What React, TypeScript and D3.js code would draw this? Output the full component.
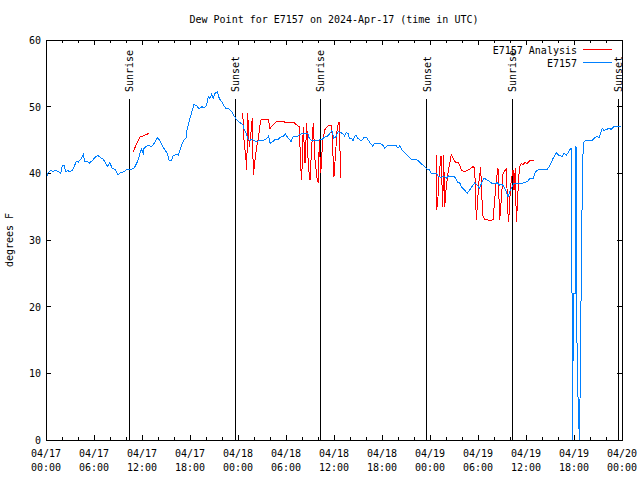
import React from "react";
import * as d3 from "d3";

const TITLE = "Dew Point for E7157 on 2024-Apr-17 (time in UTC)";
const Y_LABEL = "degrees F";
const START_UTC = Date.UTC(2024, 3, 17, 0, 0);
const END_UTC = Date.UTC(2024, 3, 20, 0, 0);
const Y_DOMAIN: [number, number] = [0, 60];
const Y_TICKS = [0, 10, 20, 30, 40, 50, 60];

// hours since 2024-04-17 00:00 UTC, dew point (F)
const observed: [number, number][] = [
  [0.1, 39.5], [0.25, 40.1], [0.59, 40.4], [0.91, 40.3], [1.21, 40.5], [1.63, 40.2], [1.84, 40.0],
  [2.04, 41.25], [2.25, 41.2], [2.46, 40.3], [2.75, 40.4], [3.0, 40.2], [3.29, 40.5], [3.59, 41.2],
  [3.79, 41.85], [4.04, 41.7], [4.34, 42.1], [4.66, 42.85], [4.84, 41.85], [5.16, 41.85], [5.38, 41.5],
  [5.79, 41.9], [6.21, 42.5], [6.5, 42.65], [6.84, 42.35], [7.16, 42.1], [7.46, 41.5], [7.66, 41.0],
  [7.96, 41.6], [8.29, 40.75], [8.71, 40.5], [9.0, 39.75], [9.34, 40.1], [9.75, 40.25], [10.09, 40.6],
  [10.59, 40.6], [11.0, 40.75], [11.34, 41.5], [11.63, 42.5], [11.91, 43.65], [12.16, 43.0], [12.25, 43.75],
  [12.5, 44.0], [12.79, 44.25], [13.09, 44.0], [13.41, 44.25], [13.75, 45.0], [13.96, 45.35], [14.25, 44.85],
  [14.59, 44.0], [14.88, 43.5], [15.16, 43.0], [15.41, 41.85], [15.71, 42.0], [15.91, 42.65], [16.25, 42.85],
  [16.54, 42.75], [16.75, 43.5], [16.96, 44.25], [17.25, 45.0], [17.5, 45.25], [17.66, 46.75], [18.0, 48.25],
  [18.29, 49.5], [18.5, 50.35], [18.84, 50.15], [19.16, 49.65], [19.46, 50.0], [19.79, 49.85], [20.09, 50.25],
  [20.29, 51.5], [20.5, 51.25], [20.71, 51.85], [20.91, 51.25], [21.13, 52.0], [21.41, 52.25], [21.66, 51.25],
  [21.96, 50.75], [22.25, 50.15], [22.5, 49.75], [22.91, 49.65], [23.21, 49.25], [23.5, 48.65], [23.75, 48.15],
  [24.09, 47.75], [24.38, 47.5], [24.66, 47.25], [24.79, 46.5], [25.0, 46.0], [25.21, 45.25], [25.41, 44.9],
  [25.75, 45.1], [26.04, 44.9], [26.34, 44.75], [26.66, 44.9], [27.09, 44.9], [27.5, 45.1], [27.84, 45.6],
  [28.0, 44.5], [28.34, 44.75], [28.66, 45.1], [28.96, 45.0], [29.25, 45.4], [29.59, 45.5], [29.91, 45.9],
  [30.21, 45.4], [30.41, 45.1], [30.63, 44.75], [30.84, 45.4], [31.16, 45.6], [31.46, 45.6], [31.88, 45.9],
  [32.29, 46.0], [32.71, 46.0], [32.91, 45.25], [33.25, 44.9], [33.66, 45.0], [34.09, 45.0], [34.5, 45.1],
  [34.79, 45.4], [35.21, 45.6], [35.5, 46.0], [35.75, 46.4], [35.96, 45.25], [36.25, 45.5], [36.5, 46.25],
  [36.79, 46.1], [37.09, 46.0], [37.34, 45.6], [37.5, 46.1], [37.75, 46.0], [37.91, 45.25], [38.16, 45.25],
  [38.38, 44.9], [38.59, 45.5], [38.75, 45.75], [39.0, 45.25], [39.29, 45.0], [39.5, 45.0], [39.79, 45.4],
  [40.04, 45.4], [40.34, 44.9], [40.54, 44.5], [40.84, 44.1], [41.09, 44.5], [41.38, 44.5], [41.66, 44.5],
  [41.91, 44.4], [42.21, 44.1], [42.34, 43.75], [42.63, 44.1], [43.04, 44.25], [43.46, 44.25], [43.75, 44.25],
  [44.0, 43.75], [44.21, 44.1], [44.5, 43.5], [44.84, 43.1], [45.13, 42.75], [45.41, 42.4], [45.66, 42.1],
  [46.16, 42.1], [46.5, 41.9], [46.79, 41.6], [47.09, 41.25], [47.34, 41.0], [47.63, 40.6], [47.91, 40.6],
  [48.16, 40.0], [48.38, 39.9], [48.79, 40.0], [49.09, 39.5], [49.41, 39.4], [49.75, 39.6], [50.04, 39.25],
  [50.34, 39.6], [50.66, 39.5], [51.0, 39.6], [51.29, 39.1], [51.5, 38.6], [51.71, 38.6], [51.91, 38.0],
  [52.25, 37.6], [52.66, 37.0], [52.96, 37.5], [53.25, 38.0], [53.59, 38.6], [53.91, 38.25], [54.21, 37.75],
  [54.5, 38.75], [54.75, 39.25], [55.04, 39.1], [55.46, 38.75], [55.75, 38.5], [56.09, 38.4], [56.41, 38.6],
  [56.71, 38.25], [57.0, 38.4], [57.25, 38.0], [57.54, 37.25], [57.75, 36.5], [57.96, 37.25], [58.16, 37.75],
  [58.5, 38.5], [58.79, 38.4], [59.09, 38.5], [59.41, 38.4], [59.75, 38.6], [60.16, 38.75], [60.5, 39.25],
  [60.91, 39.25], [61.09, 40.0], [61.34, 40.4], [61.63, 40.6], [62.66, 40.6], [62.88, 41.0], [63.09, 41.5],
  [63.29, 42.0], [63.5, 42.5], [63.79, 43.1], [64.04, 42.75], [64.34, 42.6], [64.54, 42.5], [64.75, 43.0],
  [65.04, 42.75], [65.29, 43.1], [65.5, 43.6], [65.66, 43.75], [65.75, 22.0], [65.79, 7.5], [65.84, 0.0],
  [65.91, 22.0], [66.13, 22.0], [66.16, 44.1], [66.23, 36.75], [66.29, 44.0], [66.34, 22.0], [66.41, 7.5],
  [66.54, 6.0], [66.66, 0.0], [66.75, 6.0], [66.84, 17.0], [66.94, 27.5], [67.04, 38.75], [67.16, 44.5],
  [67.25, 44.75], [67.66, 45.0], [68.29, 45.0], [68.5, 45.25], [68.84, 45.5], [69.13, 45.4], [69.34, 46.0],
  [69.54, 46.75], [69.75, 46.4], [70.09, 46.6], [70.38, 46.75], [70.66, 46.6], [70.91, 46.9], [71.09, 47.1],
  [71.34, 47.0], [71.63, 47.1], [71.91, 47.1],
];

// analysis series; null separates gaps
const analysis: ([number, number] | null)[] = [
  [10.91, 43.25], [11.34, 44.5], [11.75, 45.5], [12.16, 45.6], [12.59, 45.85], [12.91, 46.0],
  null,
  [24.59, 49.0], [24.75, 45.0], [25.0, 42.0], [25.09, 40.5], [25.21, 49.0], [25.41, 44.0], [25.63, 46.25],
  [25.79, 48.25], [25.91, 39.75], [26.13, 42.0], [26.34, 44.0], [26.54, 45.25], [26.84, 48.0], [27.16, 48.1],
  [27.79, 48.1], [28.0, 46.75], [28.41, 47.25], [28.84, 47.85], [29.66, 47.85], [29.88, 47.6], [30.5, 47.65],
  [31.0, 47.6], [31.34, 47.25], [31.66, 47.0], [31.84, 41.0], [31.96, 39.0], [32.16, 47.0], [32.38, 41.5],
  [32.59, 47.5], [32.79, 41.0], [33.0, 39.0], [33.21, 44.0], [33.41, 47.5], [33.63, 42.0], [33.91, 39.0],
  [34.04, 38.5], [34.16, 45.0], [34.34, 40.0], [34.59, 45.0], [34.88, 46.6], [35.16, 47.0], [35.41, 47.25],
  [35.71, 47.25], [35.84, 43.5], [36.0, 39.5], [36.25, 44.0], [36.41, 47.0], [36.66, 47.75], [36.84, 39.25],
  null,
  [48.79, 42.75], [48.84, 34.5], [49.0, 36.5], [49.13, 39.75], [49.38, 42.6], [49.59, 35.0], [49.71, 42.75],
  [49.84, 35.0], [50.04, 38.0], [50.25, 40.0], [50.46, 41.5], [50.66, 42.75], [50.88, 42.3], [51.16, 41.7],
  [51.5, 41.6], [51.71, 41.3], [51.91, 40.5], [52.25, 40.3], [52.66, 40.4], [53.09, 40.75], [53.38, 41.0],
  [53.59, 40.75], [53.79, 33.0], [53.91, 35.0], [54.09, 38.5], [54.34, 41.0], [54.41, 38.5], [54.5, 36.0],
  [54.63, 33.5], [54.84, 33.1], [55.25, 33.0], [55.66, 32.9], [55.88, 33.1], [56.09, 36.0], [56.29, 39.0],
  [56.5, 40.75], [56.63, 36.0], [56.71, 33.0], [56.91, 36.0], [57.13, 40.0], [57.41, 40.5], [57.59, 40.75],
  [57.66, 35.0], [57.84, 32.75], [57.96, 36.0], [58.16, 39.0], [58.38, 40.5], [58.5, 37.5], [58.66, 40.75],
  [58.79, 32.75], [58.91, 35.0], [59.09, 39.5], [59.21, 41.0], [59.41, 41.5], [59.63, 41.25], [59.84, 41.6],
  [60.16, 41.5], [60.5, 41.9], [60.79, 42.0], [60.94, 41.9],
];

const eventNames = ["Sunrise", "Sunset", "Sunrise", "Sunset", "Sunrise", "Sunset"];
const eventHours = [10.41, 23.66, 34.29, 47.57, 58.29, 71.54];

const legendNames = ["E7157 Analysis", "E7157"];
const legendColors = ["#ff0000", "#0080ff"];

const FONT = "'DejaVu Sans Mono', 'Liberation Mono', monospace";

const toDate = (h: number) => new Date(START_UTC + h * 3600e3);

export default function App() {
  const W = 640, H = 480;
  const m = { left: 46, right: 622, top: 40, bottom: 440 };
  const x = d3.scaleUtc().domain([new Date(START_UTC), new Date(END_UTC)]).range([m.left, m.right]);
  const y = d3.scaleLinear().domain(Y_DOMAIN).range([m.bottom, m.top]);

  const line = d3.line<[number, number] | null>()
    .defined((d) => d !== null)
    .x((d) => x(toDate((d as [number, number])[0])))
    .y((d) => y((d as [number, number])[1]));

  const majorTicks = d3.utcHour.every(6)!.range(new Date(START_UTC), new Date(END_UTC + 1));
  const minorTicks = d3.utcHour.every(2)!.range(new Date(START_UTC), new Date(END_UTC + 1))
    .filter((t) => t.getUTCHours() % 6 !== 0);
  const fmtDay = d3.utcFormat("%m/%d");
  const fmtTime = d3.utcFormat("%H:%M");

  return (
    <svg width={W} height={H} style={{ position: "fixed", left: 0, top: 0, background: "#fff" }}
      fontFamily={FONT} fontSize={10}>
      <rect x={0} y={0} width={W} height={H} fill="#fff" />
      <text x={(m.left + m.right) / 2} y={23} textAnchor="middle" fill="#000">{TITLE}</text>
      <text transform={`translate(13,${(m.top + m.bottom) / 2}) rotate(-90)`} textAnchor="middle" fill="#000">{Y_LABEL}</text>

      <g shapeRendering="crispEdges" stroke="#000">
        {Y_TICKS.map((t) => (
          <g key={"y" + t}>
            <line x1={m.left} x2={m.left + 5} y1={y(t)} y2={y(t)} />
            <line x1={m.right - 5} x2={m.right} y1={y(t)} y2={y(t)} />
          </g>
        ))}
        {majorTicks.map((t, i) => (
          <g key={"mx" + i}>
            <line x1={x(t)} x2={x(t)} y1={m.bottom} y2={m.bottom - 5} />
            <line x1={x(t)} x2={x(t)} y1={m.top} y2={m.top + 5} />
          </g>
        ))}
        {minorTicks.map((t, i) => (
          <g key={"nx" + i}>
            <line x1={x(t)} x2={x(t)} y1={m.bottom} y2={m.bottom - 3} />
            <line x1={x(t)} x2={x(t)} y1={m.top} y2={m.top + 3} />
          </g>
        ))}
      </g>

      {Y_TICKS.map((t) => (
        <text key={"yl" + t} x={m.left - 5} y={y(t) + 4} textAnchor="end" fill="#000">{t}</text>
      ))}
      {majorTicks.map((t, i) => (
        <g key={"xl" + i}>
          <text x={x(t)} y={m.bottom + 17} textAnchor="middle" fill="#000">{fmtDay(t)}</text>
          <text x={x(t)} y={m.bottom + 31} textAnchor="middle" fill="#000">{fmtTime(t)}</text>
        </g>
      ))}

      {eventHours.map((h, i) => (
        <g key={"ev" + i}>
          <line x1={x(toDate(h))} x2={x(toDate(h))} y1={99} y2={m.bottom} stroke="#000" shapeRendering="crispEdges" />
          <text transform={`translate(${x(toDate(h)) + 4},92) rotate(-90)`} textAnchor="start" fill="#000">{eventNames[i]}</text>
        </g>
      ))}

      <path d={line(analysis) || ""} fill="none" stroke={legendColors[0]} strokeWidth={1} shapeRendering="crispEdges" />
      <path d={line(observed) || ""} fill="none" stroke={legendColors[1]} strokeWidth={1} shapeRendering="crispEdges" />

      {legendNames.map((n, i) => (
        <g key={"lg" + i}>
          <text x={577} y={54 + i * 13} textAnchor="end" fill="#000">{n}</text>
          <line x1={583} x2={612} y1={49.5 + i * 13} y2={49.5 + i * 13} stroke={legendColors[i]} shapeRendering="crispEdges" />
        </g>
      ))}

      <rect x={m.left} y={m.top} width={m.right - m.left} height={m.bottom - m.top} fill="none" stroke="#000" shapeRendering="crispEdges" />
    </svg>
  );
}
